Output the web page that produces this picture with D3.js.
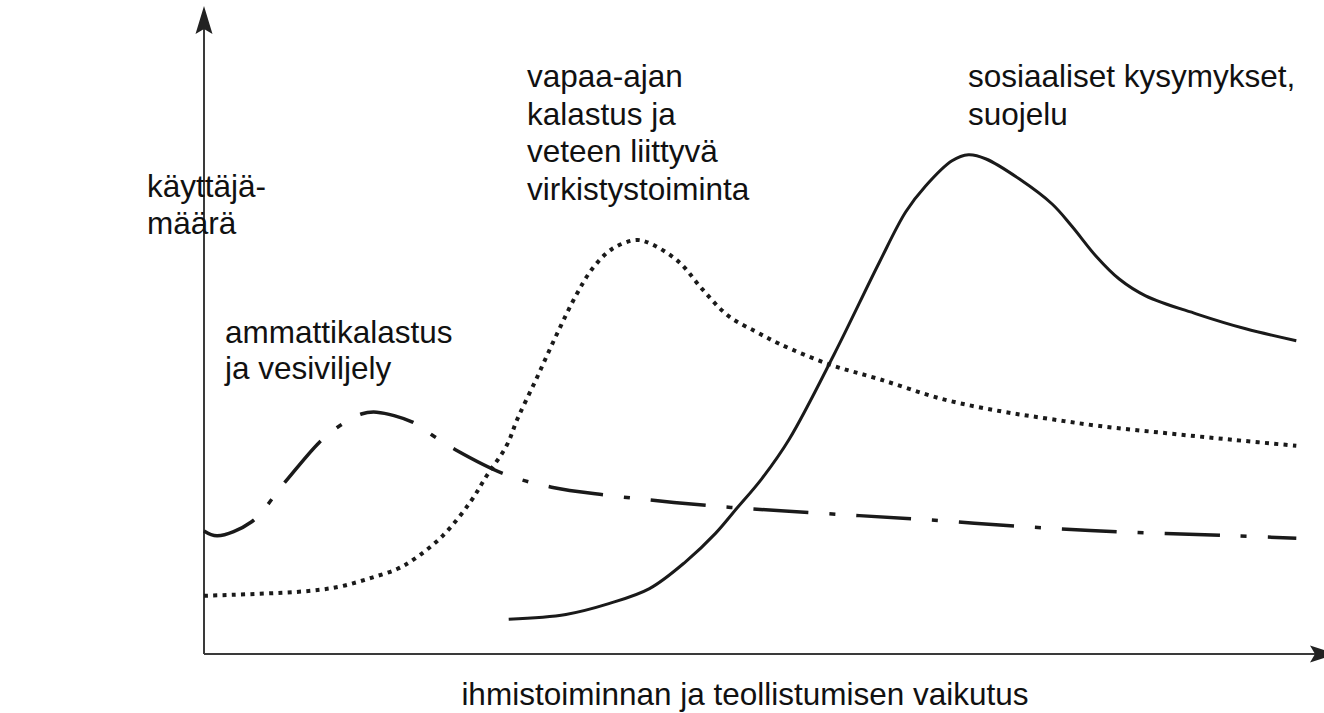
<!DOCTYPE html>
<html>
<head>
<meta charset="utf-8">
<script src="https://cdn.jsdelivr.net/npm/d3@7"></script>
<style>
	body { margin: 0; background: #fff; }
	svg { display: block; }
	text { font-family: "Liberation Sans", Arial, sans-serif; font-size: 31.5px; fill: #111; }
</style>
</head>
<body>
<svg id="chart"></svg>
<script>

// Curve readings (x: 0..100 along the horizontal axis, y: 0..100 up the vertical axis).
var commercialX = [ 0, 1.2, 4.3, 7.3, 10.5, 12.3, 14.3, 15.7, 18.9, 20.9, 22.9, 27.3, 31.6, 36.5, 46.1, 55.6, 64.7, 74.7, 84.1, 93.6, 99.3 ];
var commercialY = [ 20.5, 19.7, 22, 28.5, 35.3, 38, 40, 40.3, 38.7, 36.3, 34, 30, 27.8, 26.5, 24.7, 23.5, 22.5, 21.2, 20.3, 19.7, 19.3 ];

var recreationX = [ 0, 9.5, 12.5, 15.2, 17.6, 19.1, 21.7, 24.2, 25.7, 27.5, 28.5, 30.2, 32, 33.8, 35.3, 37.1, 39.3, 40.7, 43.2, 45.3, 47.7, 50.2, 52.3, 56.8, 61.4, 67.1, 72.3, 76.8, 81.4, 87.5, 93.5, 99.3 ];
var recreationY = [ 9.7, 10.5, 11.3, 12.7, 14.2, 15.8, 19.7, 25.3, 29.7, 34.7, 39.2, 45.8, 53, 59.7, 64.2, 67.5, 69, 68.3, 65.3, 60.8, 56.3, 53.7, 51.7, 48.3, 45.8, 42.5, 40.5, 39.2, 38, 36.8, 35.7, 34.7 ];

var socialX = [ 27.7, 32.9, 36.8, 40.5, 43.8, 46.5, 48.4, 50.7, 53.2, 57.3, 61.4, 63.8, 65.6, 68, 69.5, 71.1, 74.1, 77.1, 78.9, 81.1, 83.2, 85.6, 90.2, 94.7, 99.3 ];
var socialY = [ 5.8, 6.6, 8.4, 10.9, 15.4, 20.1, 24.2, 29.2, 35.8, 50, 65.3, 73.7, 78, 82.2, 83.2, 82.5, 79.2, 75, 71.3, 66.3, 62.5, 59.7, 56.7, 54.2, 52.2 ];

var commercialLabel = [ 'ammattikalastus', 'ja vesiviljely' ];
var recreationLabel = [ 'vapaa-ajan', 'kalastus ja', 'veteen liittyvä', 'virkistystoiminta' ];
var socialLabel = [ 'sosiaaliset kysymykset,', 'suojelu' ];
var yTitle = [ 'käyttäjä-', 'määrä' ];
var xTitle = 'ihmistoiminnan ja teollistumisen vaikutus';

var width = 1324;
var height = 713;

var svg = d3.select( '#chart' )
	.attr( 'width', width )
	.attr( 'height', height );

var x = d3.scaleLinear().domain( [ 0, 100 ] ).range( [ 204, 1304 ] );
var y = d3.scaleLinear().domain( [ 0, 100 ] ).range( [ 654, 54 ] );

// Axes with barbed arrow heads.
var axisColor = '#3a3a3a';
svg.append( 'line' )
	.attr( 'x1', x( 0 ) ).attr( 'y1', y( 0 ) )
	.attr( 'x2', x( 0 ) ).attr( 'y2', 28 )
	.style( 'stroke', axisColor ).style( 'stroke-width', 2 );
svg.append( 'line' )
	.attr( 'x1', x( 0 ) ).attr( 'y1', y( 0 ) )
	.attr( 'x2', 1320 ).attr( 'y2', y( 0 ) )
	.style( 'stroke', axisColor ).style( 'stroke-width', 2 );

var ax = x( 0 );
svg.append( 'path' )
	.attr( 'd', 'M' + ax + ',6 L' + ( ax + 8.5 ) + ',34 L' + ax + ',29 L' + ( ax - 8.5 ) + ',34 Z' )
	.style( 'fill', '#222' );
var ay = y( 0 );
svg.append( 'path' )
	.attr( 'd', 'M1337,' + ay + ' L1310,' + ( ay - 8.5 ) + ' L1315,' + ay + ' L1310,' + ( ay + 8.5 ) + ' Z' )
	.style( 'fill', '#222' );

var line = d3.line()
	.x( function ( d ) { return x( d[0] ); } )
	.y( function ( d ) { return y( d[1] ); } )
	.curve( d3.curveCatmullRom.alpha( 0.5 ) );

function zip( xs, ys ) {
	return xs.map( function ( v, i ) { return [ v, ys[i] ]; } );
}

var curves = [
	{ pts: zip( commercialX, commercialY ), width: 3.5, dash: '55,21,6,21' },
	{ pts: zip( recreationX, recreationY ), width: 4, dash: '4,5.3' },
	{ pts: zip( socialX, socialY ), width: 3, dash: null }
];

curves.forEach( function ( c ) {
	svg.append( 'path' )
		.attr( 'd', line( c.pts ) )
		.style( 'fill', 'none' )
		.style( 'stroke', '#1a1a1a' )
		.style( 'stroke-width', c.width )
		.style( 'stroke-dasharray', c.dash );
} );

// Labels.
function block( lines, left, top, step ) {
	var t = svg.append( 'text' ).attr( 'x', left ).attr( 'y', top );
	lines.forEach( function ( s, i ) {
		t.append( 'tspan' ).attr( 'x', left ).attr( 'y', top + i * step ).text( s );
	} );
}

block( yTitle, 147, 197, 37 );
block( commercialLabel, 225, 343, 36 );
block( recreationLabel, 527, 87, 37.5 );
block( socialLabel, 968, 87, 38 );

svg.append( 'text' )
	.attr( 'x', 745 )
	.attr( 'y', 705 )
	.attr( 'text-anchor', 'middle' )
	.text( xTitle );

</script>
</body>
</html>
